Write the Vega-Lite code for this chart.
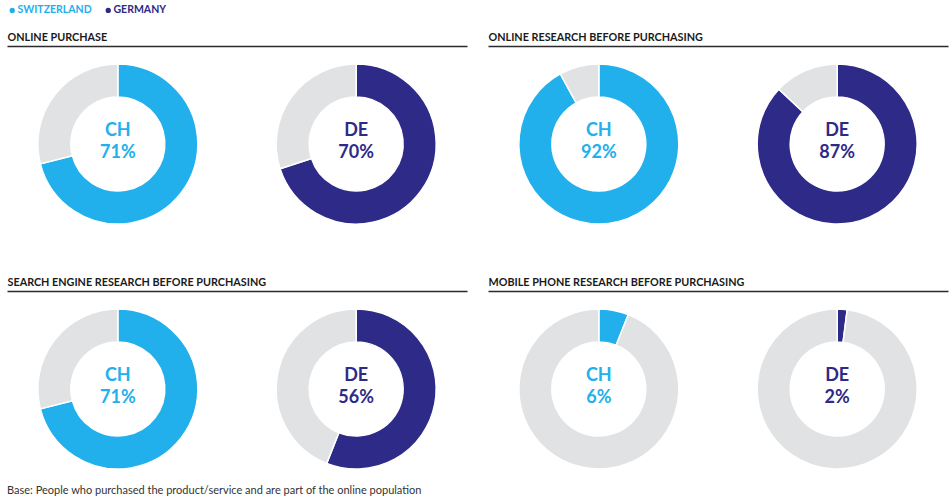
{
  "$schema": "https://vega.github.io/schema/vega-lite/v6.json",
  "padding": {"left": 7, "top": 5, "right": 5, "bottom": 4},
  "background": "white",
  "config": {
    "view": {"stroke": null},
    "font": "Lato",
    "axis": {"labels": false, "ticks": false, "grid": false, "domain": true, "domainColor": "#2b2b2b", "domainWidth": 1.5, "titleAnchor": "start", "titleAlign": "left", "titleFont": "Lato", "titleFontSize": 10.8, "titleFontWeight": "bold", "titleColor": "#1a1a1a", "titlePadding": 4}
  },
  "data": {"values": [
    {"panel": "ONLINE PURCHASE", "country": "SWITZERLAND", "code": "CH", "kind": "yes", "value": 71, "label": "71%"},
    {"panel": "ONLINE PURCHASE", "country": "SWITZERLAND", "code": "CH", "kind": "no", "value": 29, "label": ""},
    {"panel": "ONLINE PURCHASE", "country": "GERMANY", "code": "DE", "kind": "yes", "value": 70, "label": "70%"},
    {"panel": "ONLINE PURCHASE", "country": "GERMANY", "code": "DE", "kind": "no", "value": 30, "label": ""},
    {"panel": "ONLINE RESEARCH BEFORE PURCHASING", "country": "SWITZERLAND", "code": "CH", "kind": "yes", "value": 92, "label": "92%"},
    {"panel": "ONLINE RESEARCH BEFORE PURCHASING", "country": "SWITZERLAND", "code": "CH", "kind": "no", "value": 8, "label": ""},
    {"panel": "ONLINE RESEARCH BEFORE PURCHASING", "country": "GERMANY", "code": "DE", "kind": "yes", "value": 87, "label": "87%"},
    {"panel": "ONLINE RESEARCH BEFORE PURCHASING", "country": "GERMANY", "code": "DE", "kind": "no", "value": 13, "label": ""},
    {"panel": "SEARCH ENGINE RESEARCH BEFORE PURCHASING", "country": "SWITZERLAND", "code": "CH", "kind": "yes", "value": 71, "label": "71%"},
    {"panel": "SEARCH ENGINE RESEARCH BEFORE PURCHASING", "country": "SWITZERLAND", "code": "CH", "kind": "no", "value": 29, "label": ""},
    {"panel": "SEARCH ENGINE RESEARCH BEFORE PURCHASING", "country": "GERMANY", "code": "DE", "kind": "yes", "value": 56, "label": "56%"},
    {"panel": "SEARCH ENGINE RESEARCH BEFORE PURCHASING", "country": "GERMANY", "code": "DE", "kind": "no", "value": 44, "label": ""},
    {"panel": "MOBILE PHONE RESEARCH BEFORE PURCHASING", "country": "SWITZERLAND", "code": "CH", "kind": "yes", "value": 6, "label": "6%"},
    {"panel": "MOBILE PHONE RESEARCH BEFORE PURCHASING", "country": "SWITZERLAND", "code": "CH", "kind": "no", "value": 94, "label": ""},
    {"panel": "MOBILE PHONE RESEARCH BEFORE PURCHASING", "country": "GERMANY", "code": "DE", "kind": "yes", "value": 2, "label": "2%"},
    {"panel": "MOBILE PHONE RESEARCH BEFORE PURCHASING", "country": "GERMANY", "code": "DE", "kind": "no", "value": 98, "label": ""}
  ]},
  "title": {"text": "Base: People who purchased the product/service and are part of the online population", "orient": "bottom", "anchor": "start", "font": "Lato", "fontSize": 11, "fontWeight": "normal", "color": "#333333", "offset": -2},
  "columns": 2,
  "spacing": {"column": 21, "row": 34},
  "concat": [
    {
      "width": 460, "height": 196,
      "transform": [
        {"filter": "datum.panel === 'ONLINE PURCHASE'"},
        {"stack": "value", "groupby": ["country"], "sort": [{"field": "kind", "order": "descending"}], "as": ["v0", "v1"]}
      ],
      "encoding": {"x": {"field": "country", "type": "nominal", "scale": {"type": "point", "domain": ["SWITZERLAND", "GERMANY"], "padding": 0.465}, "axis": {"orient": "top", "title": "ONLINE PURCHASE"}}},
      "layer": [
        {"mark": {"type": "arc", "innerRadius": 47, "outerRadius": 80, "stroke": "white", "strokeWidth": 1.5},
         "encoding": {
           "theta": {"field": "v0", "type": "quantitative", "scale": {"domain": [0, 100]}},
           "theta2": {"field": "v1"},
           "color": {"condition": {"test": "datum.kind === 'no'", "value": "#e1e2e4"}, "field": "country", "type": "nominal",
             "scale": {"domain": ["SWITZERLAND", "GERMANY"], "range": ["#22b0ec", "#2e2a87"]},
             "legend": {"orient": "none", "legendX": 0, "legendY": -41, "direction": "horizontal", "title": null, "symbolType": "circle", "symbolSize": 28, "symbolStrokeWidth": 0, "symbolOpacity": 1, "labelFont": "Lato", "labelFontSize": 10.5, "labelFontWeight": "bold", "labelOffset": 0, "columnPadding": 11, "padding": 0,
               "labelColor": {"expr": "datum.value === 'SWITZERLAND' ? '#22b0ec' : '#2e2a87'"}}}
         }},
        {"transform": [{"filter": "datum.kind === 'yes'"}], "mark": {"type": "text", "dy": -8, "baseline": "alphabetic", "fontSize": 18, "fontWeight": "bold"},
         "encoding": {"text": {"field": "code"}, "color": {"field": "country", "type": "nominal", "legend": null}}},
        {"transform": [{"filter": "datum.kind === 'yes'"}], "mark": {"type": "text", "dy": 14, "baseline": "alphabetic", "fontSize": 18, "fontWeight": "bold"},
         "encoding": {"text": {"field": "label"}, "color": {"field": "country", "type": "nominal", "legend": null}}}
      ]
    },
    {
      "width": 460, "height": 196,
      "transform": [
        {"filter": "datum.panel === 'ONLINE RESEARCH BEFORE PURCHASING'"},
        {"stack": "value", "groupby": ["country"], "sort": [{"field": "kind", "order": "descending"}], "as": ["v0", "v1"]}
      ],
      "encoding": {"x": {"field": "country", "type": "nominal", "scale": {"type": "point", "domain": ["SWITZERLAND", "GERMANY"], "padding": 0.465}, "axis": {"orient": "top", "title": "ONLINE RESEARCH BEFORE PURCHASING"}}},
      "layer": [
        {"mark": {"type": "arc", "innerRadius": 47, "outerRadius": 80, "stroke": "white", "strokeWidth": 1.5},
         "encoding": {
           "theta": {"field": "v0", "type": "quantitative", "scale": {"domain": [0, 100]}},
           "theta2": {"field": "v1"},
           "color": {"condition": {"test": "datum.kind === 'no'", "value": "#e1e2e4"}, "field": "country", "type": "nominal", "legend": null}
         }},
        {"transform": [{"filter": "datum.kind === 'yes'"}], "mark": {"type": "text", "dy": -8, "baseline": "alphabetic", "fontSize": 18, "fontWeight": "bold"},
         "encoding": {"text": {"field": "code"}, "color": {"field": "country", "type": "nominal", "legend": null}}},
        {"transform": [{"filter": "datum.kind === 'yes'"}], "mark": {"type": "text", "dy": 14, "baseline": "alphabetic", "fontSize": 18, "fontWeight": "bold"},
         "encoding": {"text": {"field": "label"}, "color": {"field": "country", "type": "nominal", "legend": null}}}
      ]
    },
    {
      "width": 460, "height": 196,
      "transform": [
        {"filter": "datum.panel === 'SEARCH ENGINE RESEARCH BEFORE PURCHASING'"},
        {"stack": "value", "groupby": ["country"], "sort": [{"field": "kind", "order": "descending"}], "as": ["v0", "v1"]}
      ],
      "encoding": {"x": {"field": "country", "type": "nominal", "scale": {"type": "point", "domain": ["SWITZERLAND", "GERMANY"], "padding": 0.465}, "axis": {"orient": "top", "title": "SEARCH ENGINE RESEARCH BEFORE PURCHASING"}}},
      "layer": [
        {"mark": {"type": "arc", "innerRadius": 47, "outerRadius": 80, "stroke": "white", "strokeWidth": 1.5},
         "encoding": {
           "theta": {"field": "v0", "type": "quantitative", "scale": {"domain": [0, 100]}},
           "theta2": {"field": "v1"},
           "color": {"condition": {"test": "datum.kind === 'no'", "value": "#e1e2e4"}, "field": "country", "type": "nominal", "legend": null}
         }},
        {"transform": [{"filter": "datum.kind === 'yes'"}], "mark": {"type": "text", "dy": -8, "baseline": "alphabetic", "fontSize": 18, "fontWeight": "bold"},
         "encoding": {"text": {"field": "code"}, "color": {"field": "country", "type": "nominal", "legend": null}}},
        {"transform": [{"filter": "datum.kind === 'yes'"}], "mark": {"type": "text", "dy": 14, "baseline": "alphabetic", "fontSize": 18, "fontWeight": "bold"},
         "encoding": {"text": {"field": "label"}, "color": {"field": "country", "type": "nominal", "legend": null}}}
      ]
    },
    {
      "width": 460, "height": 196,
      "transform": [
        {"filter": "datum.panel === 'MOBILE PHONE RESEARCH BEFORE PURCHASING'"},
        {"stack": "value", "groupby": ["country"], "sort": [{"field": "kind", "order": "descending"}], "as": ["v0", "v1"]}
      ],
      "encoding": {"x": {"field": "country", "type": "nominal", "scale": {"type": "point", "domain": ["SWITZERLAND", "GERMANY"], "padding": 0.465}, "axis": {"orient": "top", "title": "MOBILE PHONE RESEARCH BEFORE PURCHASING"}}},
      "layer": [
        {"mark": {"type": "arc", "innerRadius": 47, "outerRadius": 80, "stroke": "white", "strokeWidth": 1.5},
         "encoding": {
           "theta": {"field": "v0", "type": "quantitative", "scale": {"domain": [0, 100]}},
           "theta2": {"field": "v1"},
           "color": {"condition": {"test": "datum.kind === 'no'", "value": "#e1e2e4"}, "field": "country", "type": "nominal", "legend": null}
         }},
        {"transform": [{"filter": "datum.kind === 'yes'"}], "mark": {"type": "text", "dy": -8, "baseline": "alphabetic", "fontSize": 18, "fontWeight": "bold"},
         "encoding": {"text": {"field": "code"}, "color": {"field": "country", "type": "nominal", "legend": null}}},
        {"transform": [{"filter": "datum.kind === 'yes'"}], "mark": {"type": "text", "dy": 14, "baseline": "alphabetic", "fontSize": 18, "fontWeight": "bold"},
         "encoding": {"text": {"field": "label"}, "color": {"field": "country", "type": "nominal", "legend": null}}}
      ]
    }
  ]
}
